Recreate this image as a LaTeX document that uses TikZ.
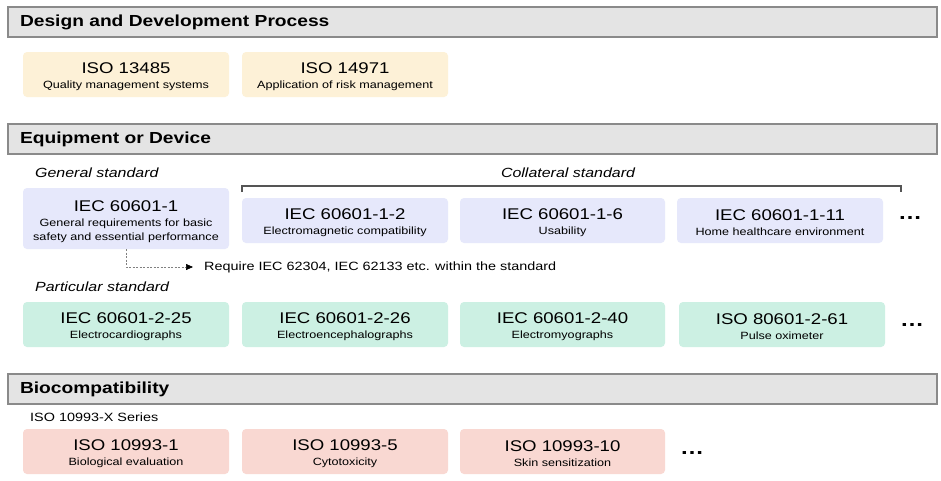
\documentclass[tikz,border=0pt]{standalone}
\usepackage{fontspec}
\setmainfont[FakeStretch=1.2]{Liberation Sans}
\usetikzlibrary{arrows.meta}
\definecolor{hdrfill}{HTML}{E4E4E4}
\definecolor{hdrline}{HTML}{8A8A8A}
\definecolor{cream}{HTML}{FDF1D7}
\definecolor{lav}{HTML}{E6E8FB}
\definecolor{mint}{HTML}{CCF0E3}
\definecolor{pinkc}{HTML}{F9D8D2}
\definecolor{brk}{HTML}{555555}
\newcommand\boxtitle[2][15pt]{{\fontsize{15.5}{14.5}\selectfont\rule{0pt}{#1}#2}}
\tikzset{
  hdr/.style={draw=hdrline, fill=hdrfill, line width=1.2pt, minimum height=30pt,
    text width=905pt, inner xsep=12pt, inner ysep=0pt, align=left,
    font=\fontsize{16}{16}\selectfont\bfseries},
  stdbox/.style={rounded corners=4pt, minimum width=206pt, minimum height=45pt,
    align=center, inner sep=0pt, font=\fontsize{10.5}{14.5}\selectfont},
  lbl/.style={font=\fontsize{13.3}{14}\selectfont\itshape, inner sep=0pt},
  dots/.style={font=\fontsize{20}{20}\selectfont\bfseries, inner sep=0pt},
}
\begin{document}
\begin{tikzpicture}[x=1pt,y=-1pt]
\useasboundingbox (0,0) rectangle (941,480);
\fill[white] (0,0) rectangle (941,480);

% Section 1
\node[hdr] (h1) at (472.5,22) {Design and Development Process};
\node[stdbox, fill=cream] (iso13485) at (126,74.5) {\boxtitle{ISO 13485}\\Quality management systems};
\node[stdbox, fill=cream] (iso14971) at (345,74.5) {\boxtitle{ISO 14971}\\Application of risk management};

% Section 2
\node[hdr] (h2) at (472.5,139) {Equipment or Device};
\node[lbl, anchor=west] (gen) at (35,173) {General standard};
\node[lbl] (col) at (568,173) {Collateral standard};
\node[stdbox, fill=lav, minimum height=61pt] (g1) at (126,218.5)
  {\boxtitle[18pt]{IEC 60601-1}\\General requirements for basic\\safety and essential performance};
\node[stdbox, fill=lav] (c2) at (345,220.5) {\boxtitle{IEC 60601-1-2}\\Electromagnetic compatibility};
\node[stdbox, fill=lav, minimum width=205pt] (c6) at (562.5,220.5) {\boxtitle{IEC 60601-1-6}\\Usability};
\node[stdbox, fill=lav] (c11) at (780,220.5) {\boxtitle{IEC 60601-1-11}\\Home healthcare environment};
\node[dots] (cdots) at (910,218) {…};
\coordinate (bl) at (242,192);
\coordinate (br) at (901,192);
\draw[brk, line width=1.2pt] (bl) -- ++(0,-6) -| (br);

\node[anchor=west, inner sep=4pt, font=\fontsize{12}{12}\selectfont] (note) at (200,267)
  {Require IEC 62304, IEC 62133 etc. within the standard};
\draw[gray, line width=0.6pt, dash pattern=on 2pt off 1.5pt,
  -{Triangle[length=7pt,width=6pt,color=black]},
  shorten >=7pt] (g1.south) |- (note.west);

\node[lbl, anchor=west] (part) at (35,287) {Particular standard};
\node[stdbox, fill=mint] (p25) at (126,324.5) {\boxtitle{IEC 60601-2-25}\\Electrocardiographs};
\node[stdbox, fill=mint] (p26) at (345,324.5) {\boxtitle{IEC 60601-2-26}\\Electroencephalographs};
\node[stdbox, fill=mint, minimum width=205pt] (p40) at (562.5,324.5) {\boxtitle{IEC 60601-2-40}\\Electromyographs};
\node[stdbox, fill=mint] (p61) at (782,324.5) {\boxtitle{ISO 80601-2-61}\\Pulse oximeter};
\node[dots] (pdots) at (912,325) {…};

% Section 3
\node[hdr] (h3) at (472.5,389) {Biocompatibility};
\node[anchor=west, inner sep=0pt, font=\fontsize{12}{12}\selectfont] (series) at (30,417) {ISO 10993-X Series};
\node[stdbox, fill=pinkc] (b1) at (126,451.5) {\boxtitle{ISO 10993-1}\\Biological evaluation};
\node[stdbox, fill=pinkc] (b5) at (345,451.5) {\boxtitle{ISO 10993-5}\\Cytotoxicity};
\node[stdbox, fill=pinkc, minimum width=205pt] (b10) at (562.5,451.5) {\boxtitle{ISO 10993-10}\\Skin sensitization};
\node[dots] (bdots) at (692,453) {…};
\end{tikzpicture}
\end{document}
